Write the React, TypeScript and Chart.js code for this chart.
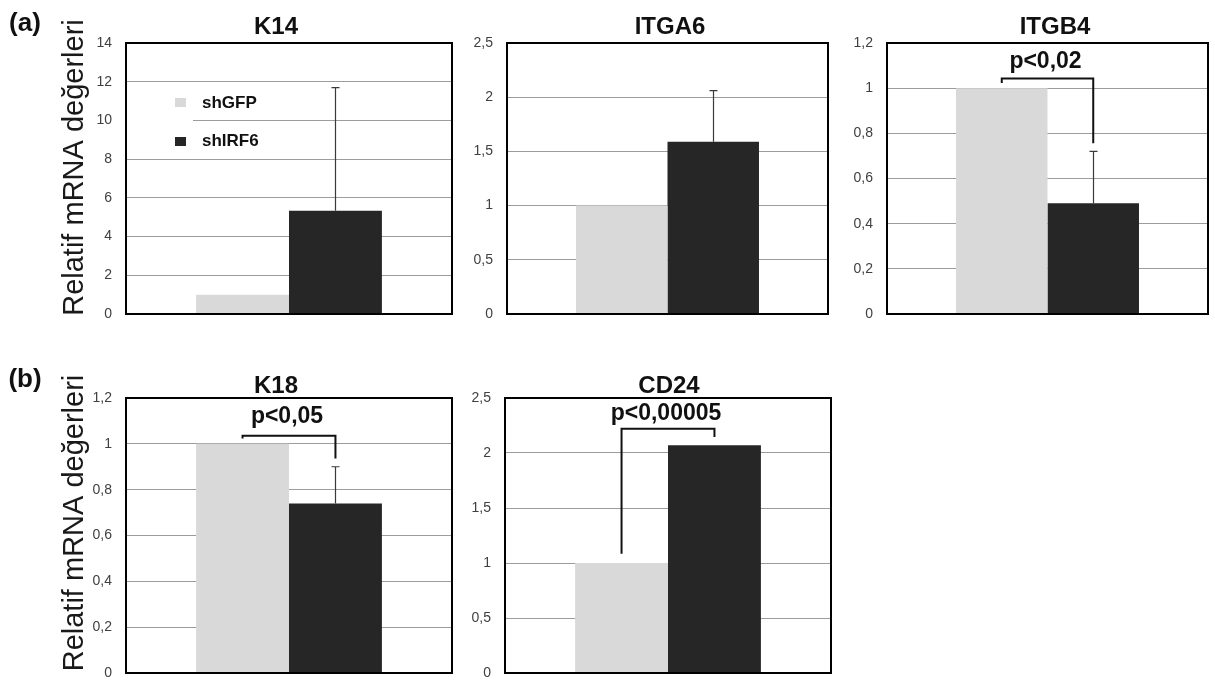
import React, { useEffect, useRef } from 'react';
import { Chart, registerables } from 'chart.js';

Chart.register(...registerables);

// ---------- data ----------
const GENES = ['K14', 'ITGA6', 'ITGB4', 'K18', 'CD24'];
const SERIES = ['shGFP', 'shIRF6'];
const SHGFP = [1, 1, 1, 1, 1];
const SHIRF6 = [5.34, 1.59, 0.49, 0.74, 2.07];
const SHIRF6_ERR = [6.35, 0.47, 0.23, 0.16, 0];
const Y_MAX = [14, 2.5, 1.2, 1.2, 2.5];
const Y_STEP = [2, 0.5, 0.2, 0.2, 0.5];
const K14_TICKS = ['0', '2', '4', '6', '8', '10', '12', '14'];
const ITGA6_TICKS = ['0', '0,5', '1', '1,5', '2', '2,5'];
const ITGB4_TICKS = ['0', '0,2', '0,4', '0,6', '0,8', '1', '1,2'];
const K18_TICKS = ['0', '0,2', '0,4', '0,6', '0,8', '1', '1,2'];
const CD24_TICKS = ['0', '0,5', '1', '1,5', '2', '2,5'];
const TICK_LABELS = [K14_TICKS, ITGA6_TICKS, ITGB4_TICKS, K18_TICKS, CD24_TICKS];
const P_LABELS = ['', '', 'p<0,02', 'p<0,05', 'p<0,00005'];
// significance bracket levels (data units): left end, top bar, right end, label centre
const BRACKET_LEFT = [0, 0, 1.023, 1.023, 1.085];
const BRACKET_TOP = [0, 0, 1.043, 1.035, 2.22];
const BRACKET_RIGHT = [0, 0, 0.756, 0.936, 2.145];
const P_LABEL_Y = [0, 0, 1.116, 1.12, 2.358];
const PANEL_LABELS = ['(a)', '(b)'];
const Y_TITLE = 'Relatif mRNA değerleri';

// ---------- layout / style ----------
const FONT = '"Liberation Sans", Arial, Helvetica, sans-serif';
const COLORS = ['#d9d9d9', '#262626'];
const AXIS_W = 40;

type Lay = {
  canvas: { x: number; y: number; w: number; h: number };
  plot: { l: number; t: number; r: number; b: number };
  title: { x: number; y: number };
  panel?: { idx: number; x: number; y: number };
  yTitle?: { x: number; y: number };
  legend?: boolean;
};

const LAYOUT: Lay[] = [
  { canvas: { x: 0, y: 0, w: 460, h: 330 }, plot: { l: 126, t: 43, r: 452, b: 314 }, title: { x: 276, y: 27.5 }, panel: { idx: 0, x: 25, y: 24 }, yTitle: { x: 83, y: 167.5 }, legend: true },
  { canvas: { x: 460, y: 0, w: 380, h: 330 }, plot: { l: 507, t: 43, r: 828, b: 314 }, title: { x: 670, y: 27.5 } },
  { canvas: { x: 840, y: 0, w: 375, h: 330 }, plot: { l: 887, t: 43, r: 1208, b: 314 }, title: { x: 1055, y: 27.5 } },
  { canvas: { x: 0, y: 340, w: 460, h: 347 }, plot: { l: 126, t: 398, r: 452, b: 673 }, title: { x: 276, y: 386.5 }, panel: { idx: 1, x: 25, y: 380 }, yTitle: { x: 83, y: 523 } },
  { canvas: { x: 460, y: 340, w: 380, h: 347 }, plot: { l: 505, t: 398, r: 831, b: 673 }, title: { x: 669, y: 386.5 } },
];

function makeConfig(i: number): any {
  const L = LAYOUT[i];
  const cx = L.canvas.x;
  const cy = L.canvas.y;
  const decor = {
    id: 'decor' + i,
    beforeDatasetsDraw(chart: any) {
      if (!L.legend) return;
      const ctx = chart.ctx;
      ctx.save();
      ctx.fillStyle = '#ffffff';
      ctx.fillRect(127 - cx, 116 - cy, 66, 10);
      ctx.restore();
    },
    afterDatasetsDraw(chart: any) {
      const { ctx, chartArea: a, scales } = chart;
      const y = scales.y;
      const b0 = chart.getDatasetMeta(0).data[0];
      const b1 = chart.getDatasetMeta(1).data[0];
      ctx.save();
      // error bar on shIRF6
      if (SHIRF6_ERR[i] > 0) {
        const x = Math.round(b1.x) + 0.5;
        const yTop = y.getPixelForValue(SHIRF6[i] + SHIRF6_ERR[i]);
        const yBar = y.getPixelForValue(SHIRF6[i]);
        ctx.strokeStyle = '#3a3a3a';
        ctx.lineWidth = 1.2;
        ctx.beginPath();
        ctx.moveTo(x, yBar);
        ctx.lineTo(x, yTop);
        ctx.moveTo(x - 4, yTop);
        ctx.lineTo(x + 4, yTop);
        ctx.stroke();
      }
      // frame
      ctx.strokeStyle = '#000';
      ctx.lineWidth = 2;
      ctx.strokeRect(a.left, a.top, a.right - a.left, a.bottom - a.top);
      // significance bracket
      if (P_LABELS[i]) {
        const xl = b0.x;
        const xr = b1.x;
        ctx.strokeStyle = '#111';
        ctx.lineWidth = 2;
        ctx.lineJoin = 'miter';
        ctx.beginPath();
        ctx.moveTo(xl, y.getPixelForValue(BRACKET_LEFT[i]));
        ctx.lineTo(xl, y.getPixelForValue(BRACKET_TOP[i]));
        ctx.lineTo(xr, y.getPixelForValue(BRACKET_TOP[i]));
        ctx.lineTo(xr, y.getPixelForValue(BRACKET_RIGHT[i]));
        ctx.stroke();
        ctx.fillStyle = '#111';
        ctx.font = 'bold 23px ' + FONT;
        ctx.textAlign = 'center';
        ctx.textBaseline = 'middle';
        ctx.fillText(P_LABELS[i], (xl + xr) / 2 - 2, y.getPixelForValue(P_LABEL_Y[i]));
      }
      // chart title
      ctx.fillStyle = '#111';
      ctx.font = 'bold 24px ' + FONT;
      ctx.textAlign = 'center';
      ctx.textBaseline = 'middle';
      ctx.fillText(GENES[i], L.title.x - cx, L.title.y - cy);
      // panel label
      if (L.panel) {
        ctx.font = 'bold 26px ' + FONT;
        ctx.fillText(PANEL_LABELS[L.panel.idx], L.panel.x - cx, L.panel.y - cy);
      }
      // y-axis title
      if (L.yTitle) {
        ctx.save();
        ctx.translate(L.yTitle.x - cx, L.yTitle.y - cy);
        ctx.rotate(-Math.PI / 2);
        ctx.font = '29px ' + FONT;
        ctx.fillStyle = '#1a1a1a';
        ctx.textAlign = 'center';
        ctx.textBaseline = 'alphabetic';
        ctx.fillText(Y_TITLE, 0, 0);
        ctx.restore();
      }
      // legend
      if (L.legend) {
        const items = [
          { y: 98, ty: 103 },
          { y: 137, ty: 141.5 },
        ];
        items.forEach((it, k) => {
          ctx.fillStyle = COLORS[k];
          ctx.fillRect(175 - cx, it.y - cy, 11, 9);
          ctx.fillStyle = '#111';
          ctx.font = 'bold 17px ' + FONT;
          ctx.textAlign = 'left';
          ctx.textBaseline = 'middle';
          ctx.fillText(SERIES[k], 202 - cx, it.ty - cy);
        });
      }
      ctx.restore();
    },
  };

  return {
    type: 'bar',
    data: {
      labels: [GENES[i]],
      datasets: [
        { label: SERIES[0], data: [SHGFP[i]], backgroundColor: COLORS[0], borderWidth: 0, barPercentage: 1, categoryPercentage: 0.57 },
        { label: SERIES[1], data: [SHIRF6[i]], backgroundColor: COLORS[1], borderWidth: 0, barPercentage: 1, categoryPercentage: 0.57 },
      ],
    },
    options: {
      responsive: false,
      animation: false,
      devicePixelRatio: 1,
      layout: {
        padding: {
          left: L.plot.l - cx - AXIS_W,
          top: L.plot.t - cy,
          right: cx + L.canvas.w - L.plot.r,
          bottom: cy + L.canvas.h - L.plot.b,
        },
      },
      plugins: { legend: { display: false }, tooltip: { enabled: false }, title: { display: false } },
      scales: {
        x: { display: false },
        y: {
          min: 0,
          max: Y_MAX[i],
          afterFit(s: any) {
            s.width = AXIS_W;
            s.paddingTop = 0;
            s.paddingBottom = 0;
          },
          ticks: {
            stepSize: Y_STEP[i],
            callback: (_v: any, idx: number) => TICK_LABELS[i][idx],
            font: { family: FONT, size: 14 },
            color: '#404040',
            padding: 14,
          },
          grid: { color: '#9c9c9c', lineWidth: 1, drawTicks: false },
          border: { display: false },
        },
      },
    },
    plugins: [decor],
  };
}

function Panel({ i }: { i: number }) {
  const ref = useRef<HTMLCanvasElement>(null);
  const L = LAYOUT[i];
  useEffect(() => {
    const chart = new Chart(ref.current as HTMLCanvasElement, makeConfig(i));
    return () => chart.destroy();
  }, [i]);
  return (
    <canvas
      ref={ref}
      width={L.canvas.w}
      height={L.canvas.h}
      style={{ position: 'absolute', left: L.canvas.x, top: L.canvas.y, width: L.canvas.w, height: L.canvas.h }}
    />
  );
}

export default function App() {
  return (
    <div style={{ position: 'absolute', left: 0, top: 0, width: 1215, height: 687, background: '#fff', overflow: 'hidden' }}>
      {GENES.map((g, i) => (
        <Panel key={g} i={i} />
      ))}
    </div>
  );
}
